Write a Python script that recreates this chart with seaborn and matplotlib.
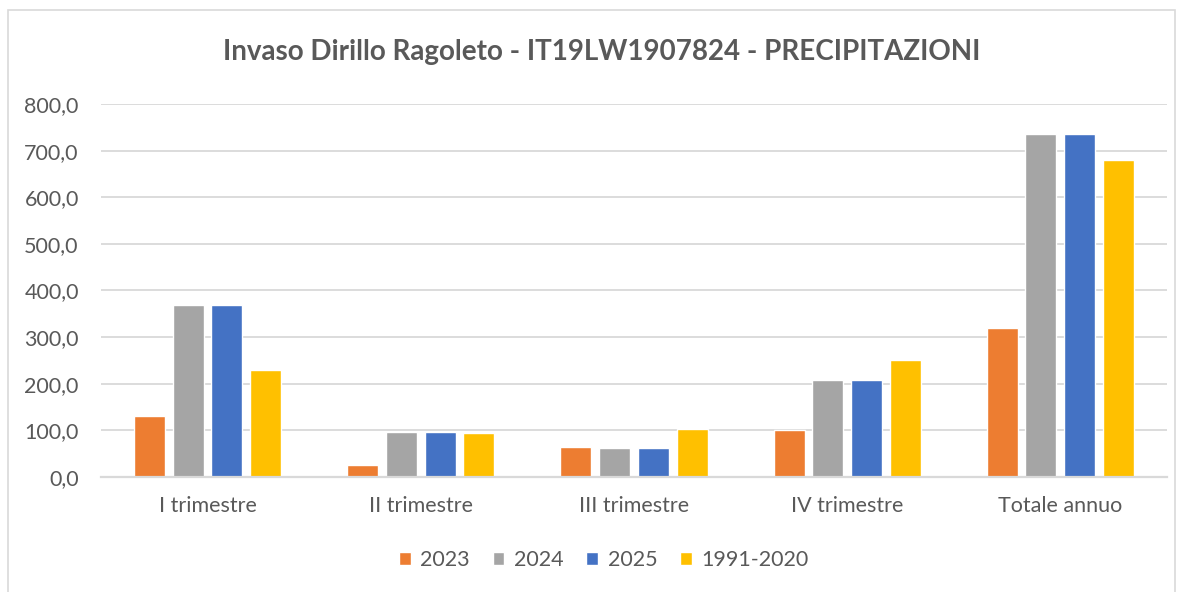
import matplotlib
matplotlib.use("Agg")
import matplotlib.pyplot as plt
from matplotlib.ticker import FuncFormatter, MultipleLocator
from matplotlib.patches import Rectangle
import seaborn as sns
import pandas as pd

# Quarterly and annual precipitation (mm)
categories = ["I trimestre", "II trimestre", "III trimestre", "IV trimestre", "Totale annuo"]
series_names = ["2023", "2024", "2025", "1991-2020"]
values_2023 = [130.0, 25.0, 65.0, 101.5, 320.5]
values_2024 = [368.0, 96.5, 63.0, 208.5, 736.0]
values_2025 = [368.0, 96.5, 63.0, 208.5, 736.0]
values_1991_2020 = [228.5, 95.0, 103.5, 251.5, 680.0]
colors = ["#ED7D31", "#A5A5A5", "#4472C4", "#FFC000"]

df = pd.DataFrame({
    "categoria": categories * 4,
    "serie": [s for s in series_names for _ in categories],
    "valore": values_2023 + values_2024 + values_2025 + values_1991_2020,
})

sns.set_theme(style="white")
plt.rcParams["font.family"] = ["Lato", "DejaVu Sans"]
text_color = "#595959"
grid_color = "#D9D9D9"

fig = plt.figure(figsize=(11.84, 5.92), dpi=100)
ax = fig.add_axes([0.0853, 0.1943, 0.9003, 0.63])

sns.barplot(data=df, x="categoria", y="valore", hue="serie",
            order=categories, hue_order=series_names,
            palette=colors, width=0.727, gap=0.2,
            saturation=1, ax=ax, legend=True)

ax.set_ylim(0, 800)
ax.yaxis.set_major_locator(MultipleLocator(100))
ax.yaxis.set_major_formatter(FuncFormatter(lambda v, _: f"{v:.1f}".replace(".", ",")))
ax.grid(axis="y", color=grid_color, linewidth=1.3)
ax.set_axisbelow(True)
for side in ["top", "right", "left"]:
    ax.spines[side].set_visible(False)
ax.spines["bottom"].set_color(grid_color)
ax.spines["bottom"].set_linewidth(1.6)
ax.tick_params(axis="y", length=0, pad=16, labelsize=15.5, labelcolor=text_color)
ax.tick_params(axis="x", length=0, pad=14, labelsize=15.5, labelcolor=text_color)
ax.set_xlabel("")
ax.set_ylabel("")

handles, labels = ax.get_legend_handles_labels()
ax.legend_.remove()
fig.legend(handles, labels, loc="center", bbox_to_anchor=(0.51, 0.054),
           ncol=4, frameon=False, fontsize=15.5, labelcolor=text_color,
           handlelength=0.55, handleheight=0.55, handletextpad=0.45,
           columnspacing=1.05)

fig.text(0.508, 0.912, "Invaso Dirillo Ragoleto - IT19LW1907824 - PRECIPITAZIONI",
         ha="center", va="center", fontsize=20, fontweight="bold", color=text_color)

# Chart frame
fig.patches.append(Rectangle((8 / 1184, -0.01), (1175 - 8) / 1184, 1 - 10 / 592 + 0.01,
                             transform=fig.transFigure, fill=False,
                             edgecolor=grid_color, linewidth=1.2))

fig.savefig("out.png", dpi=100)
